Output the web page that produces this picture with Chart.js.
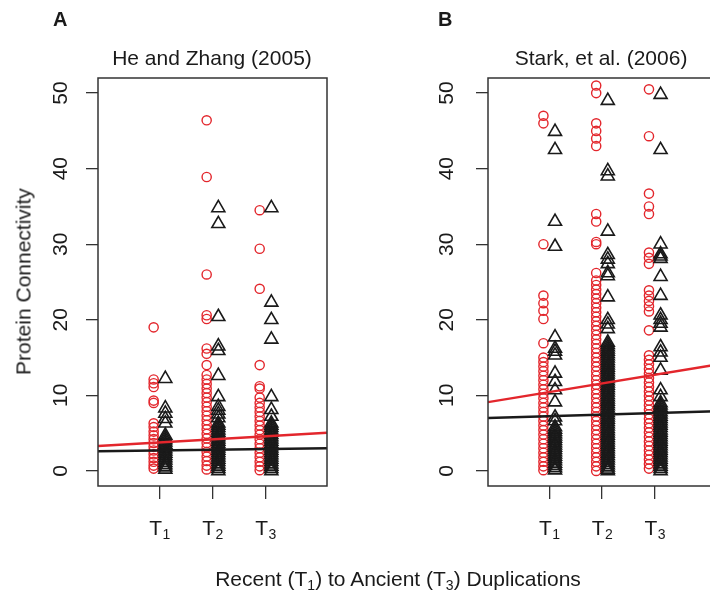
<!DOCTYPE html>
<html>
<head>
<meta charset="utf-8">
<script src="https://cdn.jsdelivr.net/npm/chart.js@4.4.1/dist/chart.umd.min.js"></script>
<style>
  html, body { margin: 0; padding: 0; background: #fff; }
  body { position: relative; width: 710px; height: 592px; overflow: hidden;
         font-family: "Liberation Sans", Arial, Helvetica, sans-serif; color: #1a1a1a; }
  canvas { position: absolute; top: 0; }
  #chartA { left: 0; }
  #chartB { left: 355px; }
  .lbl { position: absolute; white-space: nowrap; line-height: 1; }
  .panel { font-weight: bold; font-size: 20px; top: 9px; }
  .title { font-size: 21px; top: 47px; width: 300px; text-align: center; }
  .ylab { font-size: 21px; width: 300px; height: 21px; text-align: center;
          left: -127px; top: 271px; transform: rotate(-90deg); }
  .xlab { font-size: 21px; width: 500px; text-align: center; left: 148px; top: 568px; }
  sub { font-size: 14px; vertical-align: -4px; line-height: 0; }
</style>
</head>
<body>
<canvas id="chartA" width="340" height="592"></canvas>
<canvas id="chartB" width="375" height="592"></canvas>
<div class="lbl panel" style="left:53px">A</div>
<div class="lbl panel" style="left:438px">B</div>
<div class="lbl title" style="left:62px">He and Zhang (2005)</div>
<div class="lbl title" style="left:451px">Stark, et al. (2006)</div>
<div class="lbl ylab">Protein Connectivity</div>
<div class="lbl xlab">Recent (T<sub>1</sub>) to Ancient (T<sub>3</sub>) Duplications</div>
<script>
// groups on the x axis: recent (T1) to ancient (T3)
var groups = [1, 2, 3];
var tSubs = ['1', '2', '3'];
var yTicks = [0, 10, 20, 30, 40, 50];

// He and Zhang (2005) - red circles / black triangles
var heCircT1 = [19.0, 12.1, 11.6, 11.1, 9.3, 9.0, 6.3, 5.8, 5.2, 4.7, 4.2, 3.7, 3.2, 2.7, 2.2, 1.7, 1.2, 0.7, 0.3];
var heCircT2 = [46.4, 38.9, 26.0, 20.6, 20.1, 16.2, 15.5, 14.0, 12.7, 12.1, 11.5, 10.9, 10.3, 9.7, 9.1, 8.5, 7.9, 7.3, 6.7, 6.1, 5.5, 4.9, 4.3, 3.7, 3.1, 2.5, 1.9, 1.3, 0.7, 0.2];
var heCircT3 = [34.5, 29.4, 24.1, 14.0, 11.2, 10.9, 9.7, 9.0, 8.4, 7.8, 7.2, 6.6, 6.0, 5.4, 4.8, 4.2, 3.6, 3.0, 2.4, 1.8, 1.2, 0.6, 0.1];
var heTriT1 = [12.2, 8.3, 7.6, 6.9, 6.3, 4.7, 4.4, 4.1, 3.8, 3.5, 3.2, 2.9, 2.6, 2.3, 2.0, 1.7, 1.4, 1.1, 0.8, 0.5, 0.2];
var heTriT2 = [34.8, 32.7, 20.4, 16.5, 15.9, 12.6, 9.8, 8.5, 8.0, 7.5, 7.0, 6.3, 6.0, 5.7, 5.4, 5.1, 4.8, 4.5, 4.2, 3.9, 3.6, 3.3, 3.0, 2.7, 2.4, 2.1, 1.8, 1.5, 1.2, 0.9, 0.6, 0.3, 0.0];
var heTriT3 = [34.8, 22.3, 20.0, 17.4, 9.8, 8.1, 7.2, 6.3, 6.0, 5.7, 5.4, 5.1, 4.8, 4.5, 4.2, 3.9, 3.6, 3.3, 3.0, 2.7, 2.4, 2.1, 1.8, 1.5, 1.2, 0.9, 0.6, 0.3, 0.0];
// fitted lines: value at left and right edge of the plot
var heRedFit = [3.3, 5.05];
var heBlackFit = [2.6, 3.0];

// Stark, et al. (2006)
var stCircT1 = [47.0, 46.0, 30.0, 23.2, 22.2, 21.2, 20.1, 16.9, 15.0, 14.4, 13.8, 13.2, 12.6, 12.0, 11.4, 10.8, 10.2, 9.6, 9.0, 8.4, 7.8, 7.2, 6.6, 6.0, 5.4, 4.8, 4.2, 3.6, 3.0, 2.4, 1.8, 1.2, 0.6, 0.1];
var stCircT2 = [51.0, 50.0, 46.0, 45.0, 44.0, 43.0, 34.0, 33.0, 30.3, 30.0, 26.2, 25.2, 24.6, 24.0, 23.4, 22.8, 22.2, 21.6, 21.0, 20.4, 19.8, 19.2, 18.6, 18.0, 17.4, 16.8, 16.2, 15.6, 15.0, 14.4, 13.8, 13.2, 12.6, 12.0, 11.4, 10.8, 10.2, 9.6, 9.0, 8.4, 7.8, 7.2, 6.6, 6.0, 5.4, 4.8, 4.2, 3.6, 3.0, 2.4, 1.8, 1.2, 0.6, 0.0];
var stCircT3 = [50.5, 44.3, 36.7, 35.0, 34.0, 28.9, 28.2, 27.4, 23.9, 23.2, 22.5, 21.8, 21.1, 18.6, 15.3, 14.7, 14.1, 13.5, 12.9, 12.3, 11.7, 11.1, 10.5, 9.9, 9.3, 8.7, 8.1, 7.5, 6.9, 6.3, 5.7, 5.1, 4.5, 3.9, 3.3, 2.7, 2.1, 1.5, 0.9, 0.3];
var stTriT1 = [44.9, 42.5, 33.0, 29.7, 17.7, 16.2, 15.8, 15.3, 12.9, 11.8, 10.7, 9.1, 7.1, 6.6, 5.8, 5.5, 5.2, 4.9, 4.6, 4.3, 4.0, 3.7, 3.4, 3.1, 2.8, 2.5, 2.2, 1.9, 1.6, 1.3, 1.0, 0.7, 0.4, 0.1];
var stTriT2 = [49.0, 39.7, 39.0, 31.7, 28.6, 28.0, 27.4, 26.2, 25.8, 23.0, 20.0, 19.4, 18.8, 17.0, 16.7, 16.4, 16.1, 15.8, 15.5, 15.2, 14.9, 14.6, 14.3, 14.0, 13.7, 13.4, 13.1, 12.8, 12.5, 12.2, 11.9, 11.6, 11.3, 11.0, 10.7, 10.4, 10.1, 9.8, 9.5, 9.2, 8.9, 8.6, 8.3, 8.0, 7.7, 7.4, 7.1, 6.8, 6.5, 6.2, 5.9, 5.6, 5.3, 5.0, 4.7, 4.4, 4.1, 3.8, 3.5, 3.2, 2.9, 2.6, 2.3, 2.0, 1.7, 1.4, 1.1, 0.8, 0.5, 0.2, 0.0];
var stTriT3 = [49.8, 42.5, 30.0, 28.7, 28.4, 28.1, 25.7, 23.2, 20.6, 20.0, 19.5, 19.0, 16.4, 15.7, 15.0, 13.3, 10.7, 9.8, 9.0, 8.7, 8.4, 8.1, 7.8, 7.5, 7.2, 6.9, 6.6, 6.3, 6.0, 5.7, 5.4, 5.1, 4.8, 4.5, 4.2, 3.9, 3.6, 3.3, 3.0, 2.7, 2.4, 2.1, 1.8, 1.5, 1.2, 0.9, 0.6, 0.3, 0.0];
var stRedFit = [9.1, 14.05];
var stBlackFit = [7.0, 7.9];

var RED = '#e3262c';
var INK = '#1a1a1a';
var FONT = '"Liberation Sans", Arial, Helvetica, sans-serif';
var X_MIN = -0.16, X_MAX = 4.16;

function points(cols, shift) {
    var out = [];
    cols.forEach(function (vals, i) {
        vals.forEach(function (v) { out.push({x: groups[i] + shift, y: v}); });
    });
    return out;
}

function fitLine(fit) {
    return [{x: X_MIN, y: fit[0]}, {x: X_MAX, y: fit[1]}];
}

// R style box round the plot region
var boxPlugin = {
    id: 'box',
    afterDraw: function (chart) {
        var a = chart.chartArea, ctx = chart.ctx;
        ctx.save();
        ctx.strokeStyle = '#333';
        ctx.lineWidth = 1.5;
        ctx.strokeRect(a.left, a.top, a.right - a.left, a.bottom - a.top);
        ctx.restore();
    }
};

// T with a subscript under each x tick
var subTicks = {
    id: 'subTicks',
    afterDraw: function (chart) {
        var ctx = chart.ctx, xs = chart.scales.x;
        ctx.save();
        ctx.fillStyle = INK;
        ctx.textBaseline = 'alphabetic';
        ctx.textAlign = 'left';
        xs.ticks.forEach(function (t, i) {
            var px = xs.getPixelForValue(t.value);
            ctx.font = '21px ' + FONT;
            var w1 = ctx.measureText('T').width;
            ctx.font = '14px ' + FONT;
            var w2 = ctx.measureText(tSubs[i]).width;
            var x0 = px - (w1 + w2) / 2;
            ctx.font = '21px ' + FONT;
            ctx.fillText('T', x0, xs.top + 49);
            ctx.font = '14px ' + FONT;
            ctx.fillText(tSubs[i], x0 + w1 + 0.5, xs.top + 53);
        });
        ctx.restore();
    }
};

function makeChart(id, circ, tri, redFit, blackFit, yWidth, rightPad, tickPad) {
    var ctx = document.getElementById(id).getContext('2d');
    return new Chart(ctx, {
        type: 'scatter',
        data: {
            datasets: [
                {
                    data: fitLine(blackFit),
                    showLine: true,
                    borderColor: INK,
                    borderWidth: 2.4,
                    pointRadius: 0,
                },
                {
                    data: fitLine(redFit),
                    showLine: true,
                    borderColor: RED,
                    borderWidth: 2.4,
                    pointRadius: 0,
                },
                {
                    data: points(tri, 0.11),
                    pointStyle: 'triangle',
                    pointRadius: 7.5,
                    borderWidth: 1.6,
                    borderColor: INK,
                    backgroundColor: 'rgba(0,0,0,0)',
                },
                {
                    data: points(circ, -0.11),
                    pointStyle: 'circle',
                    pointRadius: 4.6,
                    borderWidth: 1.4,
                    borderColor: RED,
                    backgroundColor: 'rgba(0,0,0,0)',
                },
            ],
        },
        options: {
            responsive: false,
            animation: false,
            events: [],
            layout: {
                padding: {top: 78, right: rightPad, left: 0, bottom: 0},
            },
            plugins: {
                legend: {display: false},
                tooltip: {enabled: false},
            },
            scales: {
                x: {
                    type: 'linear',
                    min: X_MIN,
                    max: X_MAX,
                    afterBuildTicks: function (s) {
                        s.ticks = groups.map(function (g) { return {value: g}; });
                    },
                    afterFit: function (s) { s.height = 106; },
                    grid: {
                        drawOnChartArea: false,
                        drawTicks: true,
                        tickLength: 13,
                        color: '#333',
                        lineWidth: 1.3,
                    },
                    border: {display: false},
                    ticks: {display: false},
                },
                y: {
                    min: -2,
                    max: 52,
                    afterBuildTicks: function (s) {
                        s.ticks = yTicks.map(function (v) { return {value: v}; });
                    },
                    afterFit: function (s) { s.width = yWidth; },
                    grid: {
                        drawOnChartArea: false,
                        drawTicks: true,
                        tickLength: 12,
                        color: '#333',
                        lineWidth: 1.3,
                    },
                    border: {display: false},
                    ticks: {
                        minRotation: 90,
                        maxRotation: 90,
                        crossAlign: 'center',
                        padding: tickPad,
                        color: INK,
                        font: {family: FONT, size: 21},
                    },
                },
            },
        },
        plugins: [boxPlugin, subTicks],
    });
}

makeChart('chartA', [heCircT1, heCircT2, heCircT3], [heTriT1, heTriT2, heTriT3], heRedFit, heBlackFit, 98, 13, 13.5);
makeChart('chartB', [stCircT1, stCircT2, stCircT3], [stTriT1, stTriT2, stTriT3], stRedFit, stBlackFit, 133, 14, 16.8);
</script>
</body>
</html>
